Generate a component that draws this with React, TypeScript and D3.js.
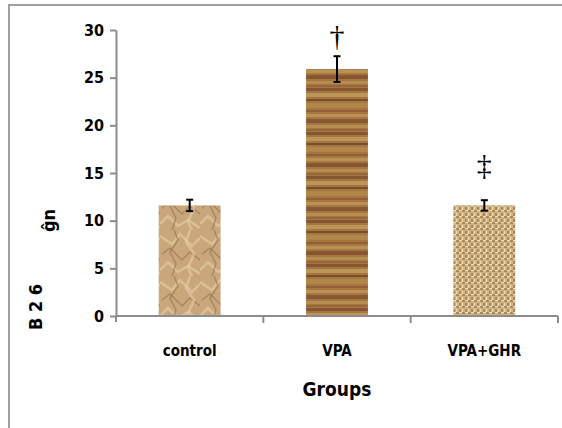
import React, { useEffect, useRef } from 'react';
import * as d3 from 'd3';

const categories = ['control', 'VPA', 'VPA+GHR'];
const means = [11.6, 25.9, 11.6];
const errors = [0.6, 1.35, 0.55];
const marks = ['', '†', '‡'];
const markLevels = [0, 29.4, 15.9];
const yTicks = [0, 5, 10, 15, 20, 25, 30];

const W = 562;
const H = 428;

export default function App() {
  const svgRef = useRef<SVGSVGElement>(null);

  useEffect(() => {
    if (!svgRef.current) return;
    const svg = d3.select(svgRef.current);
    svg.selectAll('*').remove();

    const font = '"DejaVu Sans Condensed", "DejaVu Sans", sans-serif';

    // textures for the bars
    const defs = svg.append('defs');

    const p1 = defs.append('pattern').attr('id', 'tex0').attr('patternUnits', 'userSpaceOnUse')
      .attr('width', 40).attr('height', 46);
    p1.append('rect').attr('width', 40).attr('height', 46).attr('fill', '#c9a77b');
    const crumples = [
      'M0,6 L12,14 L20,4 L32,16 L40,8', 'M2,24 L10,18 L22,30 L30,22 L40,30',
      'M0,40 L8,32 L18,42 L28,36 L40,44', 'M14,0 L18,10 L10,22 L16,34 L12,46',
      'M30,0 L26,12 L34,24 L28,38 L32,46'
    ];
    crumples.forEach((d, i) => {
      p1.append('path').attr('d', d).attr('fill', 'none')
        .attr('stroke', i % 2 ? '#937352' : '#e6cda6').attr('stroke-width', i % 2 ? 1.5 : 2.5).attr('opacity', 0.6);
    });

    const p2 = defs.append('pattern').attr('id', 'tex1').attr('patternUnits', 'userSpaceOnUse')
      .attr('width', 62).attr('height', 44);
    p2.append('rect').attr('width', 62).attr('height', 44).attr('fill', '#a5763f');
    const stripes = [
      { y: 0, h: 3, c: '#7a4a2c' }, { y: 5, h: 4, c: '#c2a060' }, { y: 11, h: 2, c: '#6e3f26' },
      { y: 15, h: 5, c: '#b48a4e' }, { y: 22, h: 2, c: '#8b5534' }, { y: 26, h: 3, c: '#c49a5a' },
      { y: 31, h: 4, c: '#7d4b2d' }, { y: 37, h: 3, c: '#b99555' }, { y: 41, h: 2, c: '#94603a' }
    ];
    stripes.forEach(s => {
      p2.append('rect').attr('y', s.y).attr('width', 62).attr('height', s.h).attr('fill', s.c).attr('opacity', 0.75);
    });

    const p3 = defs.append('pattern').attr('id', 'tex2').attr('patternUnits', 'userSpaceOnUse')
      .attr('width', 6).attr('height', 6);
    p3.append('rect').attr('width', 6).attr('height', 6).attr('fill', '#d0b483');
    p3.append('rect').attr('x', 0).attr('y', 0).attr('width', 3).attr('height', 2).attr('fill', '#a88a5c');
    p3.append('rect').attr('x', 3).attr('y', 3).attr('width', 2).attr('height', 3).attr('fill', '#a88a5c');
    p3.append('rect').attr('x', 3).attr('y', 0).attr('width', 3).attr('height', 1).attr('fill', '#efdfb2');
    p3.append('rect').attr('x', 0).attr('y', 3).attr('width', 1).attr('height', 3).attr('fill', '#efdfb2');

    // outer frame (cropped at right/bottom)
    svg.append('path')
      .attr('d', `M9,${H + 5} L9,5 L${W + 5},5`)
      .attr('fill', 'none').attr('stroke', '#a0a0a0').attr('stroke-width', 2);

    const x = d3.scaleBand<string>().domain(categories).range([116, 558]).padding(0);
    const y = d3.scaleLinear().domain([0, 30]).range([316, 30]);
    const barW = x.bandwidth() * 0.42;

    // y axis
    const yAxis = svg.append('g').attr('transform', 'translate(116,0)')
      .call(d3.axisLeft(y).tickValues(yTicks).tickSize(6).tickPadding(6).tickSizeOuter(0));
    yAxis.select('.domain').attr('stroke', '#8c8c8c').attr('stroke-width', 2);
    yAxis.selectAll('line').attr('stroke', '#8c8c8c').attr('stroke-width', 2);
    yAxis.selectAll('text').attr('fill', '#000').attr('font-family', font)
      .attr('font-weight', 'bold').attr('font-size', 16);

    // bars
    svg.append('g').selectAll('rect').data(categories).join('rect')
      .attr('x', d => x(d)! + (x.bandwidth() - barW) / 2)
      .attr('width', barW)
      .attr('y', (d, i) => y(means[i]))
      .attr('height', (d, i) => y(0) - y(means[i]))
      .attr('fill', (d, i) => `url(#tex${i})`);

    // x axis
    const xAxis = svg.append('g').attr('transform', `translate(0,${y(0)})`);
    xAxis.append('line').attr('x1', 116).attr('x2', 558).attr('stroke', '#8c8c8c').attr('stroke-width', 2);
    xAxis.selectAll('line.tk').data(categories).join('line').attr('class', 'tk')
      .attr('x1', d => x(d)! + x.bandwidth()).attr('x2', d => x(d)! + x.bandwidth())
      .attr('y1', 0).attr('y2', 7).attr('stroke', '#8c8c8c').attr('stroke-width', 2);
    xAxis.append('line').attr('x1', 116).attr('x2', 116).attr('y1', 0).attr('y2', 6)
      .attr('stroke', '#8c8c8c').attr('stroke-width', 2);
    xAxis.selectAll('text').data(categories).join('text')
      .attr('x', d => x(d)! + x.bandwidth() / 2)
      .attr('y', 40)
      .attr('text-anchor', 'middle')
      .attr('font-family', font).attr('font-weight', 'bold').attr('font-size', 15)
      .text(d => d);

    // error bars
    const eb = svg.append('g').attr('stroke', '#000').attr('stroke-width', 2);
    categories.forEach((c, i) => {
      const cx = x(c)! + x.bandwidth() / 2;
      const top = y(means[i] + errors[i]);
      const bot = y(means[i] - errors[i]);
      eb.append('line').attr('x1', cx).attr('x2', cx).attr('y1', top).attr('y2', bot);
      eb.append('line').attr('x1', cx - 3.5).attr('x2', cx + 3.5).attr('y1', top).attr('y2', top);
      eb.append('line').attr('x1', cx - 3.5).attr('x2', cx + 3.5).attr('y1', bot).attr('y2', bot);
    });

    // significance marks
    svg.append('g').selectAll('text').data(categories).join('text')
      .attr('x', d => x(d)! + x.bandwidth() / 2)
      .attr('y', (d, i) => y(markLevels[i]))
      .attr('dy', '0.35em')
      .attr('text-anchor', 'middle')
      .attr('font-family', '"Liberation Serif", serif')
      .attr('font-size', 30)
      .attr('fill', '#000')
      .text((d, i) => marks[i]);

    // axis titles
    svg.append('text')
      .attr('x', 337).attr('y', 396)
      .attr('text-anchor', 'middle')
      .attr('font-family', font).attr('font-weight', 'bold').attr('font-size', 19)
      .text('Groups');

    // garbled y-axis title as it appears in the source
    svg.append('text')
      .attr('transform', 'translate(42,330) rotate(-90)')
      .attr('font-family', font).attr('font-weight', 'bold').attr('font-size', 18)
      .text('B  2 6');
    svg.append('text')
      .attr('transform', 'translate(55,232) rotate(-90)')
      .attr('font-family', font).attr('font-weight', 'bold').attr('font-size', 18)
      .text('ĝn');
  }, []);

  return (
    <svg
      ref={svgRef}
      width={W}
      height={H}
      style={{ position: 'fixed', left: 0, top: 0, display: 'block', background: '#fff' }}
    />
  );
}
